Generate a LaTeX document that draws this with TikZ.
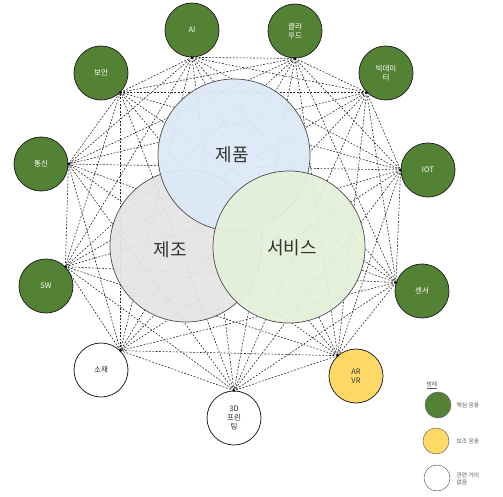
\documentclass[tikz,border=0pt]{standalone}
\usepackage{fontspec}
\setmainfont{Noto Sans CJK KR}
\begin{document}
\begin{tikzpicture}[x=1pt,y=-1pt,
  core/.style={circle,draw=black!85,line width=0.8pt,fill=corecol,minimum size=54pt,inner sep=0pt,
    text=white,font=\fontsize{7.5}{9}\selectfont,align=center},
  aux/.style={core,fill=auxcol,text=black!80},
  none/.style={core,fill=white,text=black!85},
  big/.style={circle,draw=black!70,line width=0.7pt,minimum size=152pt,inner sep=0pt,
    fill opacity=0.94,text opacity=1},
  biglabel/.style={text=black!80,font=\fontsize{18}{20}\selectfont},
  link/.style={draw=black!85,line width=0.6pt,dash pattern=on 1.8pt off 1.6pt},
  hub/.style={fill=black,radius=1.3pt},
  keydot/.style={circle,draw=black!60,line width=0.5pt,minimum size=26pt,inner sep=0pt},
  keytext/.style={anchor=west,text=black!65,font=\fontsize{5.8}{6.8}\selectfont,align=left}
]
\definecolor{corecol}{HTML}{548235}
\definecolor{auxcol}{HTML}{FFD966}
\definecolor{prodcol}{HTML}{DCE9F6}
\definecolor{makecol}{HTML}{E4E4E4}
\definecolor{servcol}{HTML}{E3F0D9}
\useasboundingbox (0,0) rectangle (503,497);

% outer technology nodes
\node[core] (ai)    at (192,30)  {AI};
\node[core] (cloud) at (295,31)  {클라\\우드};
\node[core] (big)   at (386,73)  {빅데이\\터};
\node[core] (iot)   at (428,170) {IOT};
\node[core] (sens)  at (422,291) {센서};
\node[aux]  (arvr)  at (356,376) {AR\\VR};
\node[none] (print) at (234,418) {3D\\프린\\팅};
\node[none] (mat)   at (101,370) {소재};
\node[core] (sw)    at (46,286)  {SW};
\node[core] (com)   at (41,164)  {통신};
\node[core] (sec)   at (101,73)  {보안};

% hub points where the links meet
\coordinate (p1)  at (ai.270);
\coordinate (p2)  at (cloud.270);
\coordinate (p3)  at (big.225);
\coordinate (p4)  at (iot.180);
\coordinate (p5)  at (sens.162);
\coordinate (p6)  at (arvr.132);
\coordinate (p7)  at (print.90);
\coordinate (p8)  at (mat.45);
\coordinate (p9)  at (sw.45);
\coordinate (p10) at (com.0);
\coordinate (p11) at (sec.315);

% every pair of technologies is linked
\foreach \i in {1,...,10}{
  \pgfmathtruncatemacro{\next}{\i+1}
  \foreach \j in {\next,...,11}{
    \draw[link] (p\i) -- (p\j);
  }
}
\foreach \i in {1,...,11}{ \fill[hub] (p\i) circle; }

% the three domains
\node[big,fill=makecol] (make) at (186,246) {};
\node[big,fill=prodcol] (prod) at (234,155) {};
\node[big,fill=servcol] (serv) at (289,247) {};
\node[biglabel] (lprod) at (232,155) {제품};
\node[biglabel] (lmake) at (170,250) {제조};
\node[biglabel] (lserv) at (292,248) {서비스};

% legend
\node[keytext] (ltitle) at (423,385) {\underline{범례}};
\node[keydot,fill=corecol] (k1) at (438,405) {};
\node[keydot,fill=auxcol]  (k2) at (436,441) {};
\node[keydot,fill=white]   (k3) at (437,478) {};
\node[keytext] (t1) at (453,405) {핵심 응용};
\node[keytext] (t2) at (453,441) {보조 응용};
\node[keytext] (t3) at (453,479) {관련 거의\\없음};
\end{tikzpicture}
\end{document}
